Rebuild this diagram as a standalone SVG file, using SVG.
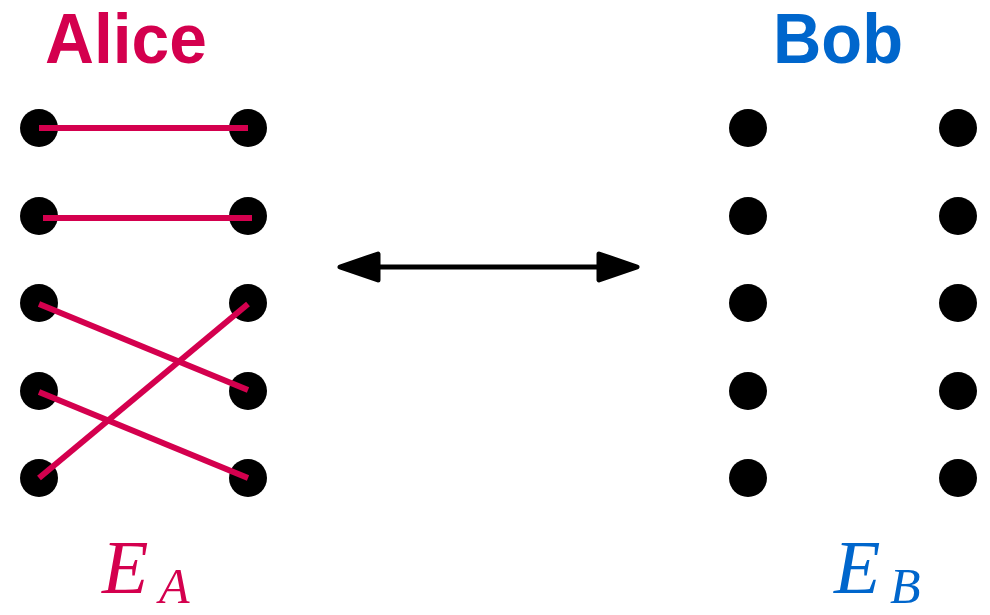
<svg xmlns="http://www.w3.org/2000/svg" width="990" height="615" viewBox="0 0 990 615">
  <style>
    .dot { fill: #000; }
    .edge { stroke: #D4004E; stroke-width: 6; fill: none; }
    .title { font-family: "Liberation Sans", "DejaVu Sans", sans-serif; font-weight: bold; font-size: 70px; }
    .math { font-family: "Liberation Serif", "DejaVu Serif", serif; font-style: italic; }
    .red { fill: #D4004E; }
    .blue { fill: #0066CC; }
  </style>
  <defs>
    <marker id="head" viewBox="0 0 46 34" refX="4" refY="17" markerWidth="46" markerHeight="34" markerUnits="userSpaceOnUse" orient="auto-start-reverse">
      <path d="M4 4 L42 17 L4 30 Z" fill="#000" stroke="#000" stroke-width="5" stroke-linejoin="round"/>
    </marker>
  </defs>

  <!-- Alice side -->
  <g id="alice">
    <text class="title red" x="45" y="63" textLength="162" lengthAdjust="spacingAndGlyphs">Alice</text>
    <g id="alice-left">
      <circle class="dot" cx="39" cy="128" r="19"/>
      <circle class="dot" cx="39" cy="216" r="19"/>
      <circle class="dot" cx="39" cy="303" r="19"/>
      <circle class="dot" cx="39" cy="391" r="19"/>
      <circle class="dot" cx="39" cy="478" r="19"/>
    </g>
    <g id="alice-right">
      <circle class="dot" cx="248" cy="128" r="19"/>
      <circle class="dot" cx="248" cy="216" r="19"/>
      <circle class="dot" cx="248" cy="303" r="19"/>
      <circle class="dot" cx="248" cy="391" r="19"/>
      <circle class="dot" cx="248" cy="478" r="19"/>
    </g>
    <text class="math red" x="102" y="593" font-size="76">E</text>
    <text class="math red" x="159" y="603" font-size="50">A</text>
  </g>

  <!-- Bob side -->
  <g id="bob">
    <text class="title blue" x="773" y="63" textLength="130" lengthAdjust="spacingAndGlyphs">Bob</text>
    <g id="bob-left">
      <circle class="dot" cx="748" cy="128" r="19"/>
      <circle class="dot" cx="748" cy="216" r="19"/>
      <circle class="dot" cx="748" cy="303" r="19"/>
      <circle class="dot" cx="748" cy="391" r="19"/>
      <circle class="dot" cx="748" cy="478" r="19"/>
    </g>
    <g id="bob-right">
      <circle class="dot" cx="958" cy="128" r="19"/>
      <circle class="dot" cx="958" cy="216" r="19"/>
      <circle class="dot" cx="958" cy="303" r="19"/>
      <circle class="dot" cx="958" cy="391" r="19"/>
      <circle class="dot" cx="958" cy="478" r="19"/>
    </g>
    <text class="math blue" x="834" y="593" font-size="76">E</text>
    <text class="math blue" x="890" y="603" font-size="50">B</text>
  </g>

  <!-- Connectors -->
  <g id="connectors">
    <line class="edge" x1="39" y1="128" x2="248" y2="128"/>
    <line class="edge" x1="43" y1="218" x2="252" y2="218"/>
    <line class="edge" x1="39" y1="304" x2="248" y2="390"/>
    <line class="edge" x1="39" y1="392" x2="248" y2="478"/>
    <line class="edge" x1="39" y1="478" x2="248" y2="304"/>
    <line x1="378" y1="267" x2="599" y2="267" stroke="#000" stroke-width="5" marker-start="url(#head)" marker-end="url(#head)"/>
  </g>
</svg>
